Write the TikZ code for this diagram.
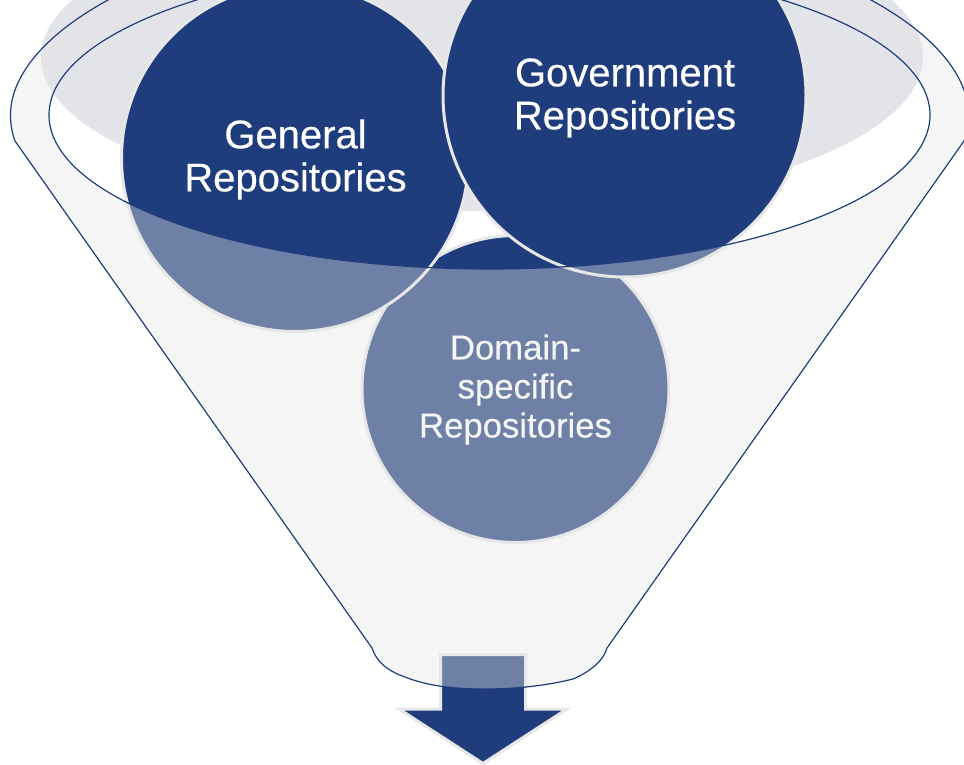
\documentclass[tikz,border=0pt]{standalone}
\usepackage{fontspec}
\setmainfont[FakeBold=0.35]{Liberation Sans}
\definecolor{navy}{HTML}{1F3D7C}
\definecolor{halo}{HTML}{E7E7E8}
\definecolor{haze}{HTML}{E3E4EA}
\definecolor{glass}{HTML}{E6E6E7}
\tikzset{
  repo/.style={circle,draw=halo,line width=3pt,fill=navy,inner sep=0pt,outer sep=0pt},
  repolabel/.style={text=white,inner sep=0pt,outer sep=0pt,align=center},
  bigtext/.style={font=\fontsize{40}{43}\selectfont},
  smalltext/.style={font=\fontsize{34.7}{39}\selectfont},
  rim/.style={draw=navy,line width=1.2pt}
}
\def\funnelpath{(15,141) .. controls (12,133) and (10.5,124) .. (10.5,115)
  .. controls (10.5,20) and (210,-80) .. (489.5,-80)
  .. controls (769,-80) and (968.5,20) .. (968.5,115)
  .. controls (968.5,124) and (967,133) .. (964,141)
  -- (607,648)
  .. controls (604,660) and (590,672) .. (573,679)
  .. controls (545,686) and (515,689) .. (484,689)
  .. controls (450,689) and (425,685) .. (405,677)
  .. controls (385,670) and (376,660) .. (372,648)
  -- cycle}
\begin{document}
\begin{tikzpicture}[x=1pt,y=-1pt]
\useasboundingbox (0,0) rectangle (964,765);
\clip (0,0) rectangle (964,765);
\fill[haze] (482,57) ellipse [x radius=441,y radius=154];
\node[repo,minimum size=307pt] (domain) at (515.5,389) {};
\node[repolabel,smalltext] (domainlabel) at (515.5,389.5) {Domain-\\specific\\Repositories};
\node[repo,minimum size=347pt] (general) at (295,158) {};
\node[repolabel,bigtext] (generallabel) at (295.5,159.5) {General\\Repositories};
\node[repo,minimum size=363pt] (government) at (624.5,95.5) {};
\node[repolabel,bigtext] (governmentlabel) at (625,98) {Government\\Repositories};
\draw[halo,fill=navy,line width=3pt,miter limit=10]
  (440.5,654.5) -- (525.5,654.5) -- (525.5,709) -- (567,709) -- (483,763.5) -- (399,709) -- (440.5,709) -- cycle;
\fill[glass,opacity=.4,even odd rule] \funnelpath (489.5,115) ellipse [x radius=440.5,y radius=154];
\draw[rim] \funnelpath;
\draw[rim] (489.5,115) ellipse [x radius=440.5,y radius=154];
\end{tikzpicture}
\end{document}
